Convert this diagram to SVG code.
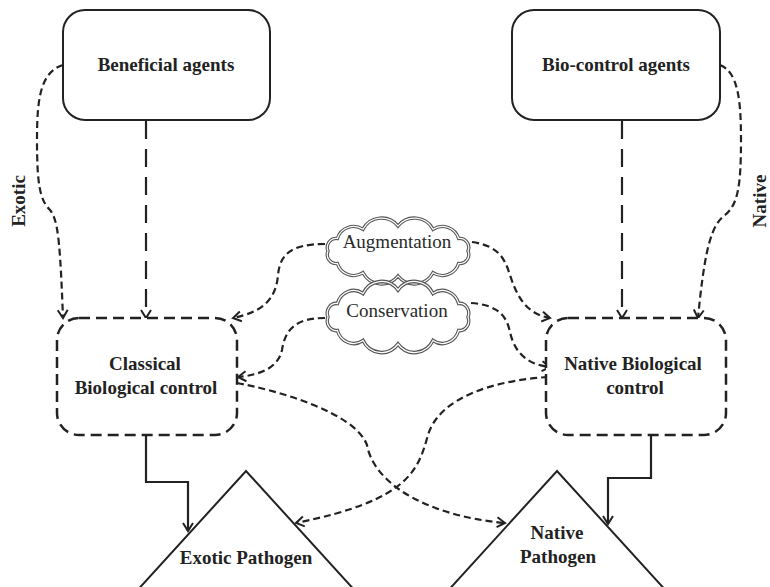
<svg xmlns="http://www.w3.org/2000/svg" xmlns:xlink="http://www.w3.org/1999/xlink" width="770" height="587" viewBox="0 0 770 587">
  <style>
    .lbl { font-family: "Liberation Serif", "Times New Roman", serif; font-size: 19px; font-weight: bold; fill: #222; text-anchor: middle; }
    .cloudtxt { font-family: "Liberation Serif", "Times New Roman", serif; font-size: 19px; fill: #2a2a2a; text-anchor: middle; }
    .solidbox { fill: #fff; stroke: #222; stroke-width: 2; }
    .dashbox { fill: #fff; stroke: #222; stroke-width: 2.5; stroke-dasharray: 11 6; }
    .tri { fill: none; stroke: #222; stroke-width: 2; }
    .dash { fill: none; stroke: #222; stroke-width: 2.2; stroke-dasharray: 7 4; marker-end: url(#arr); }
    .longdash { fill: none; stroke: #222; stroke-width: 2.2; stroke-dasharray: 18 10; marker-end: url(#arr); }
    .solid { fill: none; stroke: #222; stroke-width: 2.2; marker-end: url(#arr); }
    .cloudout { fill: none; stroke: #555; stroke-width: 3.4; }
    .cloudin { fill: none; stroke: #fff; stroke-width: 1.2; }
  </style>
  <defs>
    <marker id="arr" markerUnits="userSpaceOnUse" markerWidth="14" markerHeight="14" refX="10" refY="6" orient="auto" viewBox="0 0 14 12">
      <path d="M2,1 L10,6 L2,11" fill="none" stroke="#222" stroke-width="2" stroke-dasharray="none"/>
    </marker>
    <!-- scalloped cloud outline centred on the origin -->
    <path id="cloud" d="M70,0 A9 9 0 0 1 60.6,12.5 A17 17 0 0 1 35,21.7 A21 21 0 0 1 0,25 A21 21 0 0 1 -35,21.7 A17 17 0 0 1 -60.6,12.5 A9 9 0 0 1 -70,0 A9 9 0 0 1 -60.6,-12.5 A17 17 0 0 1 -35,-21.7 A21 21 0 0 1 0,-25 A21 21 0 0 1 35,-21.7 A17 17 0 0 1 60.6,-12.5 A9 9 0 0 1 70,0 Z"/>
  </defs>

  <rect width="770" height="587" fill="#fff"/>

  <!-- side labels -->
  <text class="lbl" transform="translate(25,201) rotate(-90)">Exotic</text>
  <text class="lbl" transform="translate(766,201) rotate(-90)">Native</text>

  <!-- connectors -->
  <g id="connectors">
    <path class="longdash" d="M146,121 L146,318"/>
    <path class="longdash" d="M622,121 L622,318"/>
    <path class="dash" d="M63,65 C40,72 37,100 37,140 C37,185 40,200 50,210 C58,220 60,240 63,318"/>
    <path class="dash" d="M720,65 C738,72 741,100 741,140 C741,185 738,205 725,215 C712,225 705,245 698,318"/>
    <path class="dash" d="M325,244 C290,244 280,255 278,275 C276,300 262,312 233,318"/>
    <path class="dash" d="M472,242 C500,246 505,260 510,275 C518,300 528,314 550,318"/>
    <path class="dash" d="M325,318 C295,318 285,330 282,350 C278,368 260,375 238,377"/>
    <path class="dash" d="M471,303 C500,305 507,318 510,332 C515,355 530,365 550,367"/>
    <path class="dash" d="M237,383 C275,390 355,412 367,445 C373,480 420,515 505,523"/>
    <path class="dash" d="M548,377 C500,380 440,395 428,435 C418,470 410,500 296,523"/>
    <path class="solid" d="M146,435 L146,482 L188,482 L188,531"/>
    <path class="solid" d="M651,435 L651,478 L608,478 L608,524"/>
  </g>

  <g id="beneficial-agents">
    <rect class="solidbox" x="63" y="10" width="207" height="110" rx="22"/>
    <text class="lbl" x="166" y="71">Beneficial agents</text>
  </g>

  <g id="bio-control-agents">
    <rect class="solidbox" x="512" y="10" width="208" height="110" rx="22"/>
    <text class="lbl" x="616" y="71">Bio-control agents</text>
  </g>

  <g id="classical-biological-control">
    <rect class="dashbox" x="57" y="318" width="180" height="117" rx="22"/>
    <text class="lbl" x="145" y="370">Classical</text>
    <text class="lbl" x="146" y="394">Biological control</text>
  </g>

  <g id="native-biological-control">
    <rect class="dashbox" x="546" y="318" width="180" height="117" rx="22"/>
    <text class="lbl" x="633" y="370">Native Biological</text>
    <text class="lbl" x="635" y="394">control</text>
  </g>

  <g id="augmentation">
    <g transform="translate(398,251)">
      <use xlink:href="#cloud" href="#cloud" class="cloudout"/>
      <use xlink:href="#cloud" href="#cloud" class="cloudin"/>
    </g>
    <text class="cloudtxt" x="397" y="248">Augmentation</text>
  </g>

  <g id="conservation">
    <g transform="translate(398,317) scale(1,1.08)">
      <use xlink:href="#cloud" href="#cloud" class="cloudout"/>
      <use xlink:href="#cloud" href="#cloud" class="cloudin"/>
    </g>
    <text class="cloudtxt" x="397" y="317">Conservation</text>
  </g>

  <g id="exotic-pathogen">
    <polyline class="tri" points="134,594 246,471 358,594"/>
    <text class="lbl" x="246" y="564">Exotic Pathogen</text>
  </g>

  <g id="native-pathogen">
    <polyline class="tri" points="445,594 557,471 669,594"/>
    <text class="lbl" x="557" y="539">Native</text>
    <text class="lbl" x="558" y="563">Pathogen</text>
  </g>
</svg>
